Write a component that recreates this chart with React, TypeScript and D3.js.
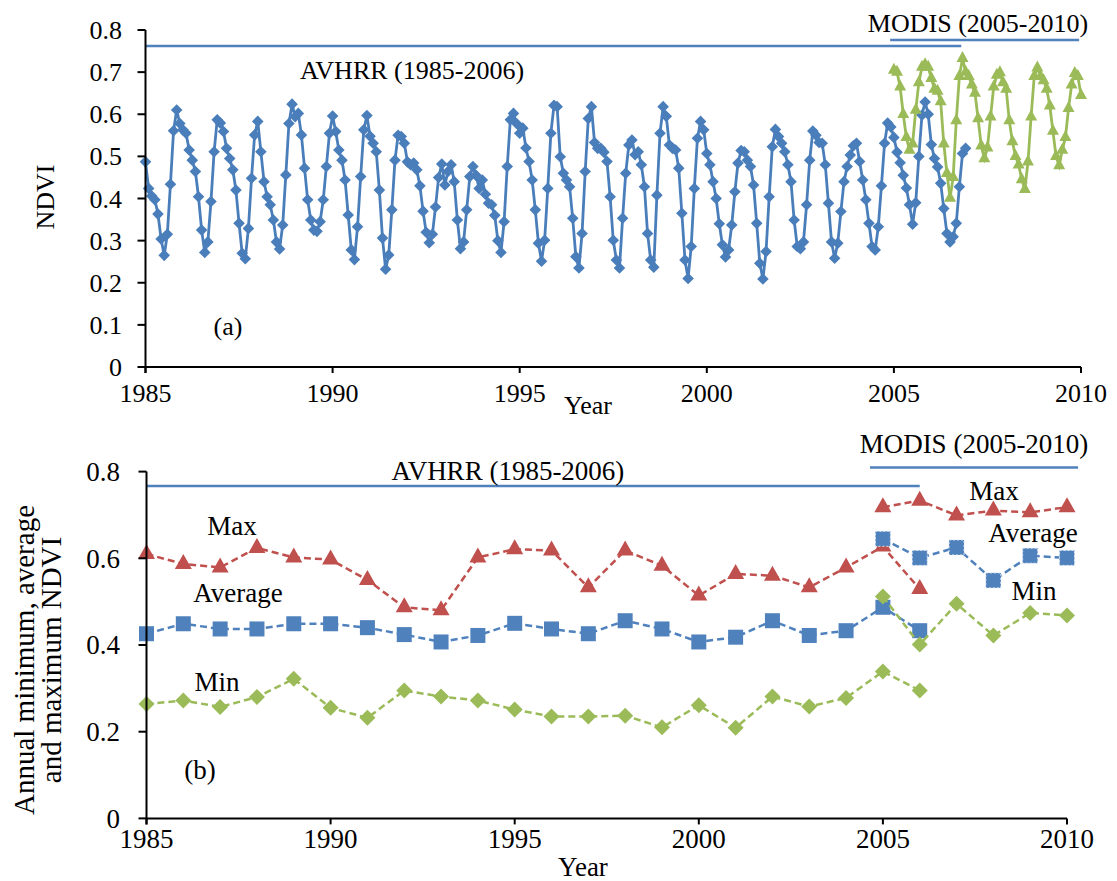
import React from 'react';
import * as d3 from 'd3';

// Monthly AVHRR NDVI, January 1985 to December 2006 (one row per year)
const avhrrMonthly: number[] = [
  0.487, 0.424, 0.406, 0.397, 0.363, 0.304, 0.265, 0.315, 0.434, 0.561, 0.610, 0.578,
  0.563, 0.555, 0.515, 0.491, 0.464, 0.404, 0.325, 0.272, 0.297, 0.393, 0.511, 0.587,
  0.579, 0.559, 0.519, 0.495, 0.468, 0.420, 0.341, 0.270, 0.257, 0.329, 0.448, 0.551,
  0.583, 0.511, 0.440, 0.404, 0.385, 0.349, 0.297, 0.280, 0.337, 0.456, 0.578, 0.624,
  0.594, 0.602, 0.551, 0.472, 0.397, 0.349, 0.325, 0.322, 0.345, 0.397, 0.476, 0.555,
  0.596, 0.559, 0.515, 0.491, 0.444, 0.361, 0.278, 0.255, 0.333, 0.452, 0.563, 0.597,
  0.548, 0.531, 0.511, 0.420, 0.306, 0.232, 0.266, 0.373, 0.491, 0.550, 0.547, 0.531,
  0.487, 0.480, 0.484, 0.468, 0.430, 0.370, 0.320, 0.295, 0.315, 0.380, 0.450, 0.482,
  0.432, 0.464, 0.480, 0.440, 0.349, 0.281, 0.297, 0.373, 0.452, 0.476, 0.455, 0.424,
  0.444, 0.410, 0.389, 0.385, 0.360, 0.300, 0.272, 0.345, 0.476, 0.587, 0.602, 0.578,
  0.555, 0.567, 0.520, 0.488, 0.444, 0.373, 0.294, 0.251, 0.301, 0.424, 0.555, 0.621,
  0.618, 0.499, 0.460, 0.444, 0.428, 0.353, 0.262, 0.235, 0.317, 0.464, 0.590, 0.618,
  0.533, 0.519, 0.519, 0.510, 0.488, 0.404, 0.301, 0.254, 0.235, 0.353, 0.460, 0.527,
  0.539, 0.504, 0.511, 0.480, 0.428, 0.317, 0.254, 0.237, 0.408, 0.555, 0.618, 0.595,
  0.527, 0.519, 0.515, 0.472, 0.365, 0.254, 0.210, 0.286, 0.424, 0.543, 0.583, 0.563,
  0.507, 0.480, 0.440, 0.400, 0.340, 0.290, 0.261, 0.278, 0.337, 0.416, 0.484, 0.514,
  0.511, 0.491, 0.476, 0.432, 0.341, 0.246, 0.209, 0.274, 0.404, 0.523, 0.564, 0.547,
  0.531, 0.511, 0.480, 0.440, 0.349, 0.286, 0.281, 0.297, 0.385, 0.491, 0.560, 0.550,
  0.533, 0.531, 0.480, 0.389, 0.297, 0.258, 0.294, 0.369, 0.440, 0.476, 0.503, 0.525,
  0.531, 0.488, 0.444, 0.397, 0.341, 0.286, 0.278, 0.333, 0.430, 0.531, 0.579, 0.570,
  0.545, 0.510, 0.485, 0.455, 0.425, 0.385, 0.339, 0.390, 0.500, 0.598, 0.629, 0.600,
  0.528, 0.495, 0.475, 0.436, 0.376, 0.317, 0.297, 0.309, 0.341, 0.428, 0.507, 0.519,
];

// Monthly MODIS NDVI, January 2005 onwards (shown up to January 2010)
const modisMonthly: number[] = [
  0.705, 0.700, 0.665, 0.600, 0.545, 0.515, 0.530, 0.610, 0.675, 0.712, 0.718, 0.712,
  0.685, 0.660, 0.655, 0.630, 0.530, 0.460, 0.401, 0.450, 0.585, 0.690, 0.733, 0.700,
  0.690, 0.670, 0.650, 0.590, 0.525, 0.495, 0.520, 0.594, 0.665, 0.693, 0.699, 0.675,
  0.660, 0.585, 0.535, 0.500, 0.480, 0.445, 0.422, 0.487, 0.594, 0.690, 0.710, 0.690,
  0.680, 0.660, 0.620, 0.560, 0.500, 0.478, 0.515, 0.545, 0.614, 0.670, 0.697, 0.690,
  0.645,
];

// Annual statistics
const avhrrYears = [1985, 1986, 1987, 1988, 1989, 1990, 1991, 1992, 1993, 1994, 1995,
  1996, 1997, 1998, 1999, 2000, 2001, 2002, 2003, 2004, 2005, 2006];
const avhrrMax = [0.610, 0.587, 0.579, 0.624, 0.602, 0.597, 0.550, 0.487, 0.480, 0.602, 0.621,
  0.618, 0.533, 0.618, 0.583, 0.514, 0.564, 0.560, 0.533, 0.579, 0.627, 0.529];
const avhrrAvg = [0.426, 0.449, 0.437, 0.437, 0.449, 0.449, 0.440, 0.424, 0.407, 0.422, 0.450,
  0.437, 0.426, 0.456, 0.437, 0.407, 0.418, 0.456, 0.422, 0.433, 0.487, 0.433];
const avhrrMin = [0.264, 0.272, 0.257, 0.280, 0.322, 0.255, 0.232, 0.295, 0.281, 0.272, 0.251,
  0.235, 0.235, 0.237, 0.210, 0.261, 0.209, 0.281, 0.258, 0.278, 0.339, 0.295];

const modisYears = [2005, 2006, 2007, 2008, 2009, 2010];
const modisMax = [0.718, 0.733, 0.699, 0.710, 0.706, 0.718];
const modisAvg = [0.645, 0.601, 0.625, 0.549, 0.606, 0.601];
const modisMin = [0.512, 0.401, 0.495, 0.422, 0.474, 0.468];

const yearTicks = [1985, 1990, 1995, 2000, 2005, 2010];
const topTicks = [0, 0.1, 0.2, 0.3, 0.4, 0.5, 0.6, 0.7, 0.8];
const bottomTicks = [0, 0.2, 0.4, 0.6, 0.8];

const BLUE = '#4a7ebb';
const SQ_BLUE = '#4f81bd';
const GREEN = '#9bbb59';
const RED = '#c0504d';
const FONT = '"Liberation Serif", "Times New Roman", serif';

const diamond = (x: number, y: number, r: number) =>
  `M${x},${y - r}L${x + r},${y}L${x},${y + r}L${x - r},${y}Z`;
const triangle = (x: number, y: number, w: number, h: number) =>
  `M${x},${y - (h * 2) / 3}L${x + w / 2},${y + h / 3}L${x - w / 2},${y + h / 3}Z`;

export default function App() {
  // panel (a) scales
  const xA = d3.scaleLinear().domain([1985, 2010]).range([145.5, 1081]);
  const yA = d3.scaleLinear().domain([0, 0.8]).range([367, 30]);
  // panel (b) scales
  const xB = d3.scaleLinear().domain([1985, 2010]).range([146.5, 1067]);
  const yB = d3.scaleLinear().domain([0, 0.8]).range([818.4, 471.6]);

  const avhrrLine = d3
    .line<number>()
    .x((_, i) => xA(1985 + i / 12))
    .y((d) => yA(d));
  const modisLine = d3
    .line<number>()
    .x((_, i) => xA(2005 + i / 12))
    .y((d) => yA(d));

  const annualLine = (years: number[]) =>
    d3
      .line<number>()
      .x((_, i) => xB(years[i]))
      .y((d) => yB(d));

  const fmt = (v: number) => (v === 0 ? '0' : d3.format('.1f')(v));

  const dashed = { fill: 'none', strokeWidth: 2.5, strokeDasharray: '7,4' };

  return (
    <svg
      width={1117}
      height={881}
      style={{ position: 'absolute', left: 0, top: 0, background: '#fff' }}
      fontFamily={FONT}
    >
      <rect x={0} y={0} width={1117} height={881} fill="#fff" />

      {/* ---------- Panel (a): monthly NDVI ---------- */}
      <g>
        {/* sensor period bars */}
        <line x1={xA(1985)} x2={xA(2006.8)} y1={46} y2={46} stroke={SQ_BLUE} strokeWidth={2.5} />
        <line x1={xA(2004.9)} x2={xA(2009.95)} y1={40} y2={40} stroke={SQ_BLUE} strokeWidth={2.5} />
        <text x={412} y={79} fontSize={26} textAnchor="middle">AVHRR (1985-2006)</text>
        <text x={978} y={32} fontSize={26} textAnchor="middle">MODIS (2005-2010)</text>
        <text x={228} y={335} fontSize={26} textAnchor="middle">(a)</text>

        {/* AVHRR series */}
        <path d={avhrrLine(avhrrMonthly) || ''} fill="none" stroke={BLUE} strokeWidth={2.8} />
        {avhrrMonthly.map((v, i) => (
          <path key={'a' + i} d={diamond(xA(1985 + i / 12), yA(v), 5.8)} fill={BLUE} />
        ))}

        {/* MODIS series */}
        <path d={modisLine(modisMonthly) || ''} fill="none" stroke={GREEN} strokeWidth={2.8} />
        {modisMonthly.map((v, i) => (
          <path key={'m' + i} d={triangle(xA(2005 + i / 12), yA(v), 12, 11)} fill={GREEN} />
        ))}

        {/* axes */}
        <line x1={xA(1985)} x2={xA(1985)} y1={yA(0.8)} y2={yA(0) + 6} stroke="#000" strokeWidth={2} />
        <line x1={xA(1985)} x2={xA(2010)} y1={yA(0)} y2={yA(0)} stroke="#000" strokeWidth={2} />
        {topTicks.map((t) => (
          <g key={'ta' + t}>
            <line x1={xA(1985) - 8} x2={xA(1985)} y1={yA(t)} y2={yA(t)} stroke="#000" strokeWidth={2} />
            <text x={122} y={yA(t)} dy="0.35em" fontSize={26} textAnchor="end">{fmt(t)}</text>
          </g>
        ))}
        {yearTicks.map((yr) => (
          <g key={'xa' + yr}>
            <line x1={xA(yr)} x2={xA(yr)} y1={yA(0)} y2={yA(0) + 6} stroke="#000" strokeWidth={2} />
            <text x={xA(yr)} y={402} fontSize={26} textAnchor="middle">{yr}</text>
          </g>
        ))}
        <text x={588} y={414} fontSize={26} textAnchor="middle">Year</text>
        <text
          transform="translate(45,197) rotate(-90)"
          fontSize={26}
          textAnchor="middle"
          dy="0.35em"
        >
          NDVI
        </text>
      </g>

      {/* ---------- Panel (b): annual statistics ---------- */}
      <g>
        <line x1={xB(1985)} x2={xB(2006)} y1={486} y2={486} stroke={SQ_BLUE} strokeWidth={2.5} />
        <line x1={xB(2004.65)} x2={xB(2010.3)} y1={467.5} y2={467.5} stroke={SQ_BLUE} strokeWidth={2.5} />
        <text x={508} y={480} fontSize={27} textAnchor="middle">AVHRR (1985-2006)</text>
        <text x={974} y={453} fontSize={27} textAnchor="middle">MODIS (2005-2010)</text>

        <text x={232} y={535} fontSize={27} textAnchor="middle">Max</text>
        <text x={238} y={602} fontSize={27} textAnchor="middle">Average</text>
        <text x={217} y={691} fontSize={27} textAnchor="middle">Min</text>
        <text x={200} y={779} fontSize={27} textAnchor="middle">(b)</text>
        <text x={994} y={500} fontSize={27} textAnchor="middle">Max</text>
        <text x={1033} y={542} fontSize={27} textAnchor="middle">Average</text>
        <text x={1034} y={600} fontSize={27} textAnchor="middle">Min</text>

        {/* AVHRR annual series */}
        <path d={annualLine(avhrrYears)(avhrrMax) || ''} stroke={RED} {...dashed} />
        <path d={annualLine(avhrrYears)(avhrrAvg) || ''} stroke={SQ_BLUE} {...dashed} />
        <path d={annualLine(avhrrYears)(avhrrMin) || ''} stroke={GREEN} {...dashed} />
        {avhrrYears.map((yr, i) => (
          <g key={'ba' + yr}>
            <path d={triangle(xB(yr), yB(avhrrMax[i]), 17, 15)} fill={RED} />
            <rect x={xB(yr) - 7.5} y={yB(avhrrAvg[i]) - 7.5} width={15} height={15} fill={SQ_BLUE} />
            <path d={diamond(xB(yr), yB(avhrrMin[i]), 8)} fill={GREEN} />
          </g>
        ))}

        {/* MODIS annual series */}
        <path d={annualLine(modisYears)(modisMax) || ''} stroke={RED} {...dashed} />
        <path d={annualLine(modisYears)(modisAvg) || ''} stroke={SQ_BLUE} {...dashed} />
        <path d={annualLine(modisYears)(modisMin) || ''} stroke={GREEN} {...dashed} />
        {modisYears.map((yr, i) => (
          <g key={'bm' + yr}>
            <path d={triangle(xB(yr), yB(modisMax[i]), 17, 15)} fill={RED} />
            <rect
              x={xB(yr) - 7.5}
              y={yB(modisAvg[i]) - 7.5}
              width={15}
              height={15}
              fill={SQ_BLUE}
              stroke="#dfe8f3"
              strokeWidth={1}
              strokeDasharray="2,2"
            />
            <path d={diamond(xB(yr), yB(modisMin[i]), 8)} fill={GREEN} />
          </g>
        ))}

        {/* axes */}
        <line x1={xB(1985)} x2={xB(1985)} y1={yB(0.8)} y2={yB(0) + 6} stroke="#000" strokeWidth={2} />
        <line x1={xB(1985)} x2={xB(2010)} y1={yB(0)} y2={yB(0)} stroke="#000" strokeWidth={2} />
        {bottomTicks.map((t) => (
          <g key={'tb' + t}>
            <line x1={xB(1985) - 8} x2={xB(1985)} y1={yB(t)} y2={yB(t)} stroke="#000" strokeWidth={2} />
            <text x={120} y={yB(t)} dy="0.35em" fontSize={27} textAnchor="end">{fmt(t)}</text>
          </g>
        ))}
        {yearTicks.map((yr) => (
          <g key={'xb' + yr}>
            <line x1={xB(yr)} x2={xB(yr)} y1={yB(0)} y2={yB(0) + 6} stroke="#000" strokeWidth={2} />
            <text x={xB(yr)} y={848} fontSize={27} textAnchor="middle">{yr}</text>
          </g>
        ))}
        <text x={583} y={876} fontSize={27} textAnchor="middle">Year</text>
        <g transform="translate(0,660) rotate(-90)">
          <text x={0} y={24} fontSize={29} textAnchor="middle" dy="0.35em">
            Annual minimum, average
          </text>
          <text x={0} y={51} fontSize={29} textAnchor="middle" dy="0.35em">
            and maximum NDVI
          </text>
        </g>
      </g>
    </svg>
  );
}
